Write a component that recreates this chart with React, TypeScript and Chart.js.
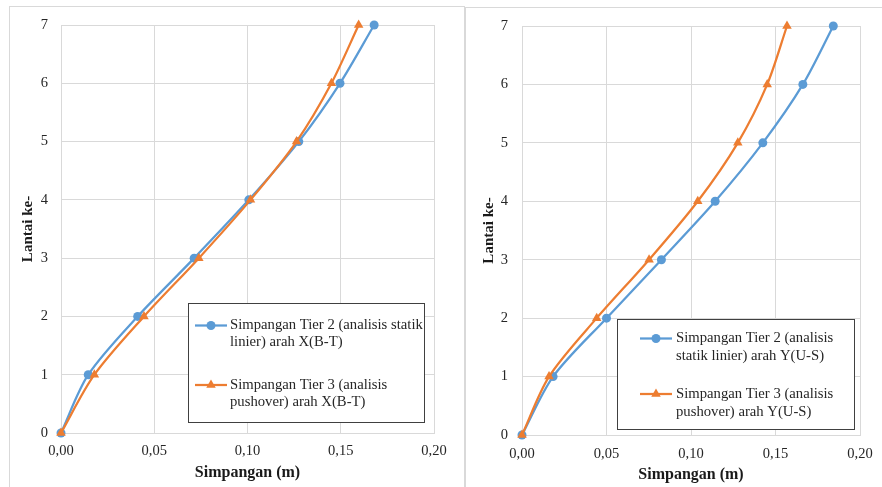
import React, { useEffect, useRef } from 'react';
import { Chart, registerables } from 'chart.js';
Chart.register(...registerables);

// Data
const floors = [0, 1, 2, 3, 4, 5, 6, 7];
const xTier2 = [0, 0.0146, 0.0411, 0.0714, 0.1007, 0.1275, 0.1496, 0.1679];
const xTier3 = [0, 0.0179, 0.0445, 0.0739, 0.1016, 0.1263, 0.145, 0.1596];
const yTier2 = [0, 0.0184, 0.05, 0.0825, 0.1143, 0.1425, 0.1662, 0.1842];
const yTier3 = [0, 0.016, 0.0442, 0.0752, 0.104, 0.1277, 0.1451, 0.1568];
const xTickValues = [0, 0.05, 0.1, 0.15, 0.2];
const xAxisTitle = 'Simpangan (m)';
const yAxisTitle = 'Lantai ke-';
const leftLegendTier2 = ['Simpangan Tier 2 (analisis statik', 'linier) arah X(B-T)'];
const leftLegendTier3 = ['Simpangan Tier 3 (analisis', 'pushover) arah X(B-T)'];
const rightLegendTier2 = ['Simpangan Tier 2 (analisis', 'statik linier) arah Y(U-S)'];
const rightLegendTier3 = ['Simpangan Tier 3 (analisis', 'pushover) arah Y(U-S)'];

const BLUE = '#5B9BD5';
const ORANGE = '#ED7D31';
const GRID = '#d9d9d9';
const TEXT = '#262626';
const SERIF = '"Liberation Serif", "Times New Roman", serif';

function drawMarker(ctx: CanvasRenderingContext2D, style: string, x: number, y: number, r: number, color: string) {
  ctx.fillStyle = color;
  ctx.beginPath();
  if (style === 'circle') {
    ctx.arc(x, y, r, 0, Math.PI * 2);
  } else {
    const side = (3 * r) / Math.sqrt(3);
    const height = (side * Math.sqrt(3)) / 2;
    ctx.moveTo(x, y - (2 * height) / 3);
    ctx.lineTo(x + side / 2, y + height / 3);
    ctx.lineTo(x - side / 2, y + height / 3);
    ctx.closePath();
  }
  ctx.fill();
}

const boxLegend = {
  id: 'boxLegend',
  afterDraw(chart: any, _args: any, opts: any) {
    const ctx: CanvasRenderingContext2D = chart.ctx;
    const { box, items, symX0, symX1, textX, lineH } = opts;
    ctx.save();
    ctx.fillStyle = '#ffffff';
    ctx.fillRect(box.x, box.y, box.w, box.h);
    ctx.strokeStyle = '#404040';
    ctx.lineWidth = 1;
    ctx.strokeRect(Math.round(box.x) + 0.5, Math.round(box.y) + 0.5, Math.round(box.w), Math.round(box.h));
    items.forEach((it: any) => {
      ctx.strokeStyle = it.color;
      ctx.lineWidth = 2.25;
      ctx.beginPath();
      ctx.moveTo(symX0, it.y);
      ctx.lineTo(symX1, it.y);
      ctx.stroke();
      drawMarker(ctx, it.style, (symX0 + symX1) / 2, it.y, it.style === 'circle' ? 4.5 : 5.5, it.color);
      ctx.fillStyle = TEXT;
      ctx.font = '14.7px ' + SERIF;
      ctx.textBaseline = 'middle';
      ctx.textAlign = 'left';
      it.lines.forEach((ln: string, i: number) => {
        ctx.fillText(ln, textX, it.y + i * lineH);
      });
    });
    ctx.restore();
  },
};

function makeConfig(p: any) {
  const ds = (label: string, xs: number[], color: string, style: string, order: number) => ({
    label,
    data: floors.map((f, i) => ({ x: xs[i], y: f })),
    borderColor: color,
    backgroundColor: color,
    borderWidth: 2.25,
    pointStyle: style,
    pointRadius: style === 'circle' ? 4.5 : 5.5,
    pointBorderWidth: 0,
    pointHoverRadius: 5,
    tension: 0.3,
    showLine: true,
    clip: false,
    order,
  });
  return {
    type: 'scatter',
    data: {
      datasets: [
        ds(p.legend2.join(' '), p.s2, BLUE, 'circle', 2),
        ds(p.legend3.join(' '), p.s3, ORANGE, 'triangle', 1),
      ],
    },
    options: {
      responsive: false,
      animation: false,
      events: [],
      layout: { padding: { top: p.padTop, right: p.padRight, left: 0, bottom: 0 } },
      plugins: {
        legend: { display: false },
        tooltip: { enabled: false },
        boxLegend: p.legendOpts,
      },
      scales: {
        x: {
          type: 'linear',
          min: 0,
          max: 0.2,
          afterFit: (s: any) => { s.height = p.xAxisH; },
          afterBuildTicks: (s: any) => { s.ticks = xTickValues.map((v) => ({ value: v })); },
          ticks: {
            padding: 0,
            color: TEXT,
            font: { family: SERIF, size: 14.5 },
            callback: (v: any) => Number(v).toFixed(2).replace('.', ','),
          },
          grid: { color: GRID, drawTicks: true, tickLength: p.xTickPad, tickColor: 'rgba(0,0,0,0)', lineWidth: 1 },
          border: { color: GRID },
          title: {
            display: true,
            text: xAxisTitle,
            color: '#1a1a1a',
            font: { family: SERIF, size: 16, weight: 'bold' },
            padding: { top: 0, bottom: p.xTitlePadB },
          },
        },
        y: {
          type: 'linear',
          min: 0,
          max: 7,
          afterFit: (s: any) => { s.width = p.yAxisW; },
          ticks: {
            stepSize: 1,
            padding: 0,
            color: TEXT,
            font: { family: SERIF, size: 14.5 },
          },
          grid: { color: GRID, drawTicks: true, tickLength: p.yTickPad, tickColor: 'rgba(0,0,0,0)', lineWidth: 1 },
          border: { color: GRID },
          title: {
            display: true,
            text: yAxisTitle,
            color: '#1a1a1a',
            font: { family: SERIF, size: 15, weight: 'bold' },
            padding: { top: p.yTitlePadT, bottom: 0 },
          },
        },
      },
    },
    plugins: [boxLegend],
  };
}

function ChartCanvas({ width, height, params }: { width: number; height: number; params: any }) {
  const ref = useRef<HTMLCanvasElement | null>(null);
  useEffect(() => {
    if (!ref.current) return;
    const chart = new Chart(ref.current, makeConfig(params) as any);
    return () => chart.destroy();
  }, []);
  return <canvas ref={ref} width={width} height={height} style={{ display: 'block', width, height }} />;
}

const leftParams = {
  s2: xTier2,
  s3: xTier3,
  legend2: leftLegendTier2,
  legend3: leftLegendTier3,
  padTop: 18,
  padRight: 30,
  xAxisH: 54,
  yAxisW: 51,
  xTickPad: 9,
  yTickPad: 13,
  xTitlePadB: 5,
  yTitlePadT: 9,
  legendOpts: {
    box: { x: 178, y: 296, w: 236, h: 119 },
    symX0: 185,
    symX1: 217,
    textX: 220,
    lineH: 17,
    items: [
      { color: BLUE, style: 'circle', y: 318.5, lines: leftLegendTier2 },
      { color: ORANGE, style: 'triangle', y: 378, lines: leftLegendTier3 },
    ],
  },
};

const rightParams = {
  s2: yTier2,
  s3: yTier3,
  legend2: rightLegendTier2,
  legend3: rightLegendTier3,
  padTop: 18,
  padRight: 22,
  xAxisH: 52,
  yAxisW: 56,
  xTickPad: 10,
  yTickPad: 14,
  xTitlePadB: 3,
  yTitlePadT: 14,
  legendOpts: {
    box: { x: 151, y: 311, w: 237, h: 110 },
    symX0: 174,
    symX1: 206,
    textX: 210,
    lineH: 18,
    items: [
      { color: BLUE, style: 'circle', y: 330.5, lines: rightLegendTier2 },
      { color: ORANGE, style: 'triangle', y: 386, lines: rightLegendTier3 },
    ],
  },
};

export default function App() {
  return (
    <div style={{ position: 'absolute', left: 0, top: 0, width: 882, height: 487, overflow: 'hidden', background: '#fff' }}>
      <div
        style={{
          position: 'absolute',
          left: 9,
          top: 6,
          width: 454,
          height: 481,
          borderLeft: '1px solid ' + GRID,
          borderTop: '1px solid ' + GRID,
          borderRight: '1px solid ' + GRID,
          boxSizing: 'content-box',
        }}
      >
        <ChartCanvas width={454} height={480} params={leftParams} />
      </div>
      <div
        style={{
          position: 'absolute',
          left: 465,
          top: 7,
          width: 416,
          height: 480,
          borderLeft: '1px solid ' + GRID,
          borderTop: '1px solid ' + GRID,
          boxSizing: 'content-box',
        }}
      >
        <ChartCanvas width={416} height={479} params={rightParams} />
      </div>
    </div>
  );
}
